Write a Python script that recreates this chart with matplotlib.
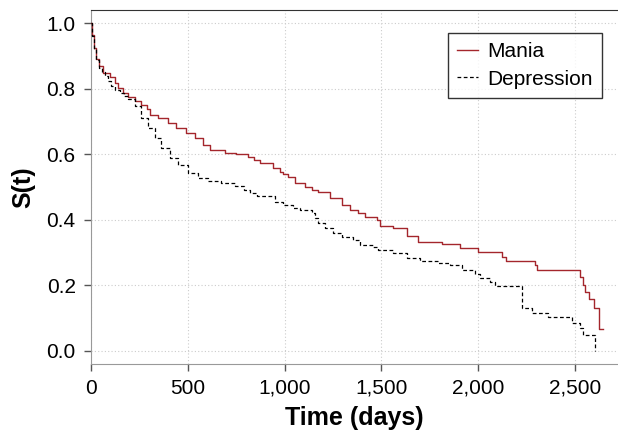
import matplotlib
matplotlib.use("Agg")
import matplotlib.pyplot as plt
from matplotlib.ticker import FuncFormatter

plt.rcParams['font.family'] = ['Liberation Sans', 'DejaVu Sans']

mania_days = [0, 7, 15, 27, 40, 62, 96, 122, 139, 165, 191, 226, 260, 291, 303, 346,
              398, 441, 492, 536, 578, 613, 690, 750, 811, 840, 873, 942, 976, 993,
              1019, 1054, 1105, 1140, 1174, 1234, 1295, 1338, 1381, 1415, 1476, 1493,
              1561, 1631, 1690, 1811, 1906, 2001, 2121, 2143, 2293, 2305, 2526, 2540,
              2552, 2572, 2598, 2624, 2643]
mania_surv = [1.0, 0.965, 0.925, 0.889, 0.869, 0.848, 0.835, 0.818, 0.802, 0.787,
              0.774, 0.762, 0.751, 0.739, 0.721, 0.711, 0.696, 0.680, 0.665, 0.650,
              0.629, 0.614, 0.604, 0.600, 0.591, 0.583, 0.573, 0.557, 0.547, 0.540,
              0.532, 0.511, 0.501, 0.491, 0.486, 0.466, 0.445, 0.430, 0.420, 0.409,
              0.399, 0.381, 0.374, 0.350, 0.333, 0.325, 0.313, 0.301, 0.287, 0.275,
              0.262, 0.247, 0.226, 0.201, 0.180, 0.158, 0.130, 0.066, 0.066]

dep_days = [0, 7, 15, 27, 40, 55, 71, 88, 105, 125, 148, 170, 191, 226, 260, 294,
            329, 363, 406, 449, 501, 553, 604, 673, 742, 790, 821, 856, 950, 993,
            1045, 1079, 1140, 1157, 1174, 1209, 1252, 1295, 1355, 1390, 1458, 1484,
            1561, 1631, 1699, 1794, 1854, 1915, 1983, 2009, 2060, 2087, 2225, 2276,
            2362, 2483, 2526, 2543, 2605]
dep_surv = [1.0, 0.962, 0.922, 0.886, 0.864, 0.850, 0.838, 0.822, 0.808, 0.797,
            0.787, 0.777, 0.767, 0.747, 0.711, 0.680, 0.650, 0.619, 0.589, 0.568,
            0.543, 0.526, 0.518, 0.512, 0.502, 0.490, 0.481, 0.473, 0.455, 0.445,
            0.435, 0.430, 0.420, 0.405, 0.389, 0.374, 0.359, 0.348, 0.338, 0.323,
            0.318, 0.308, 0.300, 0.282, 0.275, 0.269, 0.261, 0.247, 0.235, 0.223,
            0.210, 0.198, 0.130, 0.116, 0.102, 0.084, 0.069, 0.050, 0.0]

x_ticks = [0, 500, 1000, 1500, 2000, 2500]
y_ticks = [0.0, 0.2, 0.4, 0.6, 0.8, 1.0]

fig = plt.figure(figsize=(6.18, 4.33), dpi=100)
ax = fig.add_axes([91/618, 1 - 364/433, 1 - 91/618, (364 - 10)/433])

ax.step(mania_days, mania_surv, where='post', color='#a4262c', lw=1.0, label='Mania', zorder=3)
ax.step(dep_days, dep_surv, where='post', color='black', lw=0.9, ls=(0, (3, 2)),
        label='Depression', zorder=3)

ax.set_xlim(0, 2722)
ax.set_ylim(-0.04, 1.04)
ax.set_xticks(x_ticks)
ax.set_yticks(y_ticks)
ax.xaxis.set_major_formatter(FuncFormatter(lambda v, p: f"{v:,.0f}"))
ax.yaxis.set_major_formatter(FuncFormatter(lambda v, p: f"{v:.1f}"))
ax.grid(True, color='#cccccc', ls=(0, (1, 2)), lw=0.8)
ax.set_axisbelow(True)

ax.spines['right'].set_visible(False)
ax.spines['top'].set_color('#333333')
ax.spines['left'].set_color('#999999')
ax.spines['bottom'].set_color('#999999')
ax.tick_params(axis='both', colors='#555555', labelcolor='black', labelsize=15,
               length=5, width=1, direction='out')
ax.tick_params(axis='y', pad=6)
ax.tick_params(axis='x', pad=5.5)

ax.set_xlabel('Time (days)', fontsize=18, fontweight='bold', labelpad=6)
ax.set_ylabel('S(t)', fontsize=18, fontweight='bold', labelpad=8)

leg = ax.legend(loc='upper right', bbox_to_anchor=((602 - 91)/527, 1 - 23/354),
                borderaxespad=0, fontsize=15, frameon=True, fancybox=False,
                handlelength=1.0, handletextpad=0.45, borderpad=0.45,
                labelspacing=0.4)
leg.get_frame().set_edgecolor('black')
leg.get_frame().set_linewidth(1.0)

fig.savefig('out.png', dpi=100)
